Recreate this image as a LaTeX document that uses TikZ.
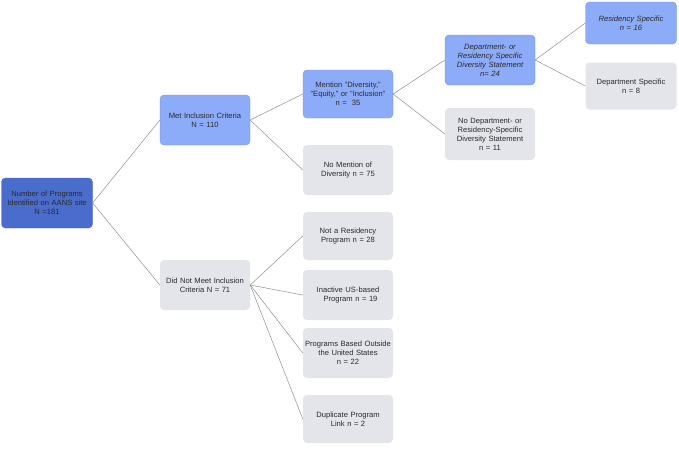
\documentclass[tikz,border=0pt]{standalone}
\usepackage{fontspec}
\setsansfont{Liberation Sans}
\usepackage{xcolor}
\usepackage{tikz}
\usetikzlibrary{positioning}
\definecolor{flowdark}{HTML}{4A6CCC}
\definecolor{flowblue}{HTML}{8CABF8}
\definecolor{flowgray}{HTML}{E3E5EB}
\definecolor{flowtext}{HTML}{2A2A2A}
\definecolor{flowline}{HTML}{909090}

\begin{document}
\begin{tikzpicture}[x=1pt,y=-1pt,
  font=\sffamily\fontsize{7.6}{9}\selectfont,
  io/.style={rounded corners=4pt,align=center,inner sep=2pt,minimum width=90pt,minimum height=50pt,text width=86pt,text=flowtext},
  rootbox/.style={io,fill=flowdark,draw=flowdark!90!black,line width=0.3pt},
  sel/.style={io,fill=flowblue,draw=flowblue!85!black,line width=0.3pt},
  excl/.style={io,fill=flowgray},
  a/.style={flowline,line width=0.5pt}]
\useasboundingbox (0,0) rectangle (679,448);
% first level
\node[rootbox,minimum width=91pt] (total) at (47,203) {Number of Programs\\Identified on AANS site\\N =181};
\node[sel] (met) at (205,120) {Met Inclusion Criteria\\N = 110};
\node[excl] (notmet) at (205,285) {Did Not Meet Inclusion\\Criteria N = 71};
% met branch
\node[sel,minimum height=48pt] (mention) at (348,94) {Mention "Diversity,"\\"Equity," or "Inclusion"\\n =\ \ 35};
\node[excl] (nomention) at (348,170) {No Mention of\\Diversity n = 75};
\node[sel] (dept) at (490,60) {\itshape Department- or\\\itshape Residency Specific\\\itshape Diversity Statement\\\itshape n= 24};
\node[excl,minimum height=52pt] (nodept) at (490,134) {No Department- or\\Residency-Specific\\Diversity Statement\\n = 11};
\node[sel,minimum width=91pt,minimum height=42pt] (res) at (631,23) {\itshape Residency Specific\\\itshape n = 16};
\node[excl,minimum width=91pt,minimum height=47pt] (deptonly) at (631,86) {Department Specific\\n = 8};
% did not meet branch
\node[excl,minimum height=48pt] (notres) at (348,236) {Not a Residency\\Program n = 28};
\node[excl] (inactive) at (348,295) {Inactive US-based\\\ \ Program n = 19};
\node[excl] (outside) at (348,353) {Programs Based Outside\\the United States\\n = 22};
\node[excl,minimum height=48pt] (dup) at (348,419) {Duplicate Program\\Link n = 2};
% connectors
\draw[a] (total.east) -- (met.west);
\draw[a] (total.east) -- (notmet.west);
\draw[a] (met.east) -- (mention.west);
\draw[a] (met.east) -- (nomention.west);
\draw[a] (mention.east) -- (dept.west);
\draw[a] (mention.east) -- (nodept.west);
\draw[a] (dept.east) -- (res.west);
\draw[a] (dept.east) -- (deptonly.west);
\foreach \n in {notres,inactive,outside,dup}
  \draw[a] (notmet.east) -- (\n.west);
\end{tikzpicture}
\end{document}
